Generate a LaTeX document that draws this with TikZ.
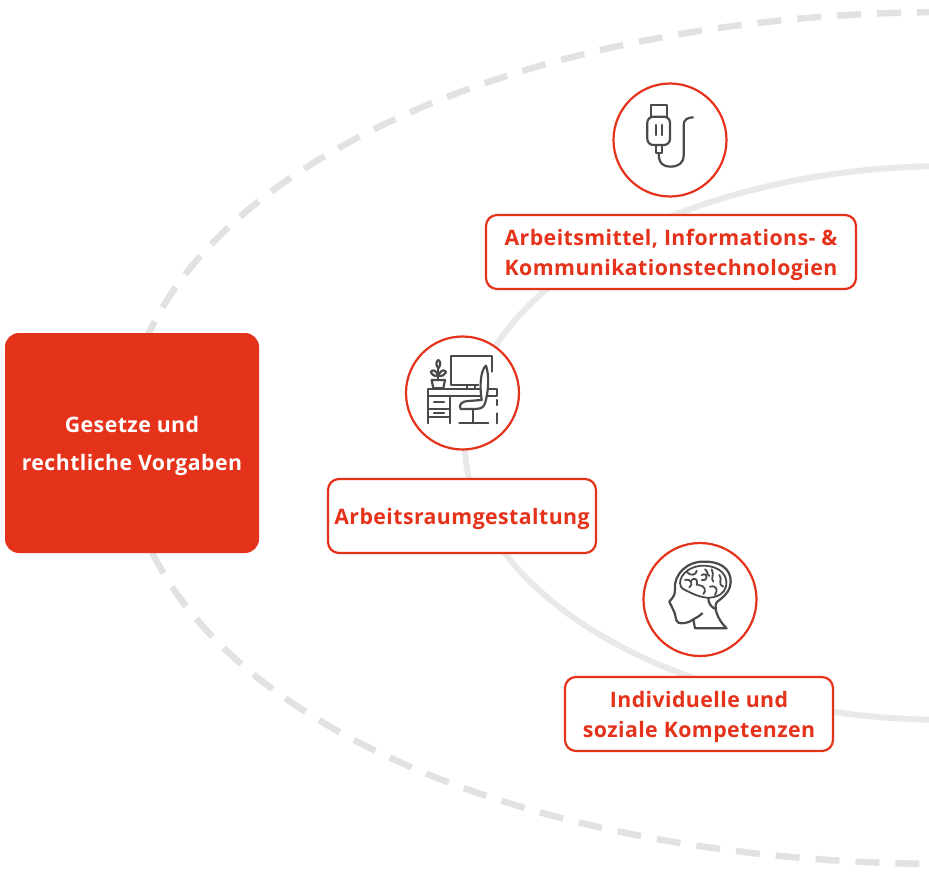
\documentclass[tikz,border=0pt]{standalone}
\usepackage{fontspec}
\setsansfont[LetterSpace=2]{Open Sans}
\definecolor{fraured}{HTML}{E5321B}
\definecolor{arcgray}{HTML}{E9E9E9}
\definecolor{dashgray}{HTML}{E2E2E2}
\definecolor{icongray}{HTML}{4A4A4A}
\tikzset{
 iconring/.style={circle,draw=fraured,line width=2.2pt,fill=white,minimum size=113pt,inner sep=0pt},
 labelbox/.style={rectangle,rounded corners=11pt,draw=fraured,line width=2.2pt,fill=white,
  text=fraured,font=\sffamily\bfseries\fontsize{21.3}{30}\selectfont,align=center,inner sep=0pt,text depth=-1.5pt},
 iconline/.style={draw=icongray,line width=2.2pt,line cap=round,line join=round},
 brainline/.style={iconline,line width=1.8pt}
}
\begin{document}
\begin{tikzpicture}[x=1pt,y=-1pt,font=\sffamily]
 \useasboundingbox (0,0) rectangle (929,875);
 \begin{scope}
 \clip (0,0) rectangle (929,875);
 \draw[dashgray,line width=6.5pt,dash pattern=on 24pt off 16pt,dash phase=31pt] (950,12)
  .. controls (480,12) and (125,200) .. (125,438)
  .. controls (125,680) and (470,864) .. (950,864);
 \draw[arcgray,line width=6pt] (950,166) arc[start angle=-90,end angle=-270,x radius=485,y radius=277];
 \end{scope}
 % main box
 \node[rectangle,rounded corners=14pt,fill=fraured,text=white,minimum width=254pt,minimum height=220pt,
  inner sep=0pt,align=center,text depth=-3pt,font=\sffamily\bfseries\fontsize{21.3}{38}\selectfont] (gesetze) at (132,443)
  {Gesetze und\\rechtliche Vorgaben};
 % rings
 \node[iconring] (usbring) at (670,140) {};
 \node[iconring] (deskring) at (462.5,393) {};
 \node[iconring] (headring) at (700,599.5) {};
 % labels
 \node[labelbox,minimum width=370pt,minimum height=74pt] (mittel) at (671,252)
  {Arbeitsmittel, Informations- \&\\Kommunikationstechnologien};
 \node[labelbox,minimum width=268pt,minimum height=74pt] (raum) at (462,516) {Arbeitsraumgestaltung};
 \node[labelbox,minimum width=268pt,minimum height=74pt] (kompetenz) at (699,714)
  {Individuelle und\\soziale Kompetenzen};
 % usb icon
 \begin{scope}[shift={(590,70)},scale=1/3]
 \draw[iconline] (183,140)--(183,105)--(230,105)--(230,140);
 \draw[iconline,rounded corners=6pt] (172,140) rectangle (240,225);
 \draw[iconline] (198,165)--(198,195) (215,165)--(215,195);
 \draw[iconline] (197,225)--(197,248)--(215,248)--(215,225);
 \draw[iconline] (206,250) .. controls (206,280) and (220,290) .. (240,290)
  .. controls (265,290) and (281,280) .. (281,255) -- (281,165)
  .. controls (281,150) and (292,142) .. (309,142);
 \end{scope}
 % desk icon
 \begin{scope}[shift={(390,325)},scale=1/3]
 \draw[iconline] (265,180)--(182,180)--(182,92)--(305,92)--(305,140);
 \draw[iconline] (232,180)--(232,192) (255,180)--(255,192);
 \draw[iconline] (115,192)--(320,192)--(320,212)--(115,212)--cycle;
 \draw[iconline] (115,212)--(115,295) (180,212)--(180,295) (115,252)--(180,252) (115,275)--(180,275);
 \draw[iconline] (132,232)--(162,232) (132,263)--(162,263);
 \draw[iconline] (320,225)--(320,240) (320,265)--(320,295);
 \draw[iconline,fill=white] (125,165)--(165,165)--(160,190)--(130,190)--cycle;
 \draw[iconline] (145,165)--(145,130);
 \draw[iconline] (145,130) .. controls (135,118) and (140,108) .. (145,105) .. controls (150,108) and (155,118) .. (145,130);
 \draw[iconline] (145,152) .. controls (135,130) and (125,135) .. (122,142) .. controls (125,150) and (135,155) .. (145,152);
 \draw[iconline] (145,152) .. controls (155,130) and (165,135) .. (168,142) .. controls (165,150) and (155,155) .. (145,152);
 \draw[iconline,fill=white] (275,225) .. controls (268,180) and (272,135) .. (288,122)
  .. controls (298,150) and (296,200) .. (285,235) .. controls (280,250) and (270,252) .. (250,252)
  -- (212,252) .. controls (205,240) and (215,228) .. (235,228) -- cycle;
 \draw[iconline] (250,255)--(250,295) (208,295)--(295,295);
 \end{scope}
 % head icon
 \begin{scope}[shift={(630,530)},scale=1/3]
 \draw[iconline] (290,295)--(195,295)--(190,268)
  .. controls (175,280) and (155,282) .. (145,278) .. controls (133,270) and (140,255) .. (130,240)
  -- (118,215) .. controls (125,205) and (135,200) .. (135,180)
  .. controls (130,130) and (175,92) .. (225,95) .. controls (285,95) and (310,130) .. (300,170)
  .. controls (295,190) and (275,205) .. (262,215) .. controls (250,225) and (258,265) .. (290,295);
 \draw[iconline] (190,268) .. controls (200,262) and (210,258) .. (217,250);
 \draw[iconline] (235,205) .. controls (235,222) and (245,232) .. (258,238);
 \draw[brainline] (150,160) .. controls (150,130) and (185,105) .. (225,107)
  .. controls (270,110) and (295,135) .. (288,170) .. controls (283,190) and (265,200) .. (240,203)
  .. controls (215,205) and (185,190) .. (165,180) .. controls (155,175) and (150,170) .. (150,160);
 \draw[brainline] (170,125) .. controls (180,140) and (200,135) .. (200,122)
  (165,150) .. controls (185,145) and (190,165) .. (178,172)
  (215,135) .. controls (235,125) and (235,155) .. (215,150)
  (205,165) .. controls (225,165) and (230,185) .. (220,192)
  (245,118) .. controls (255,135) and (240,145) .. (250,155)
  (240,170) .. controls (260,165) and (265,180) .. (255,195)
  (268,135) .. controls (280,150) and (260,160) .. (280,170)
  (185,150) .. controls (195,140) and (205,150) .. (200,165)
  (225,118) .. controls (235,125) and (228,130) .. (238,138);
 \end{scope}
\end{tikzpicture}
\end{document}
